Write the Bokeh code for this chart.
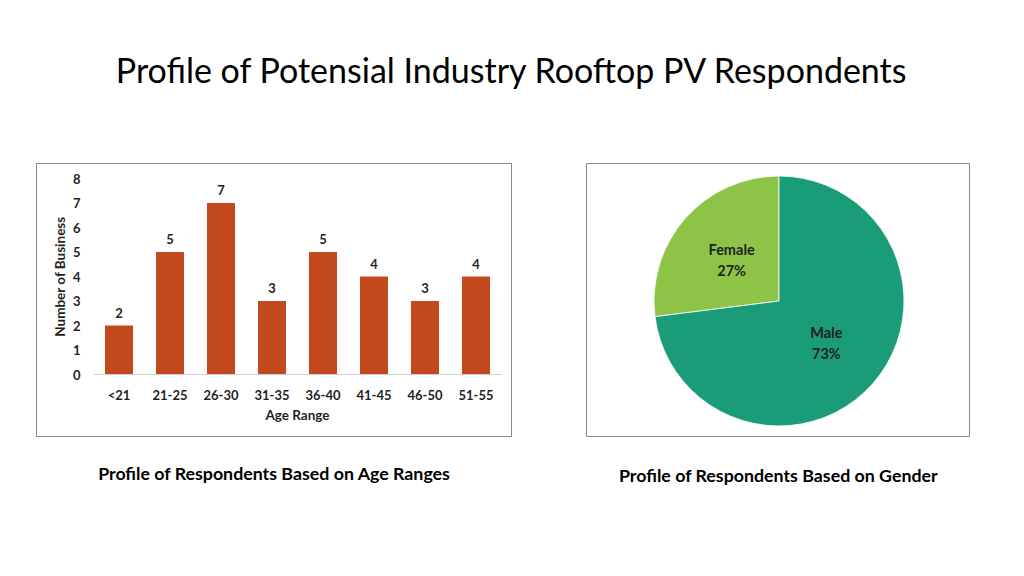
import math
from bokeh.plotting import figure
from bokeh.layouts import column, row
from bokeh.models import Spacer, Range1d, FactorRange, ColumnDataSource
from bokeh.core.properties import value
from bokeh.embed import file_html
from bokeh.resources import INLINE

# ---------------- data ----------------
age_ranges = ["<21", "21-25", "26-30", "31-35", "36-40", "41-45", "46-50", "51-55"]
business_counts = [2, 5, 7, 3, 5, 4, 3, 4]
genders = ["Female", "Male"]
gender_shares = [27, 73]
gender_colors = ["#8dc447", "#1b9c78"]

title_text = "Profile of Potensial Industry Rooftop PV Respondents"
caption_age = "Profile of Respondents Based on Age Ranges"
caption_gender = "Profile of Respondents Based on Gender"

FONT = "Lato"
DARK = "#1f1f1f"
BORDER = "#8a8a8a"


def blank(w, h):
    f = figure(width=w, height=h, x_range=Range1d(0, w), y_range=Range1d(h, 0),
               toolbar_location=None, output_backend="svg", min_border=0)
    f.axis.visible = False
    f.grid.visible = False
    f.outline_line_color = None
    f.border_fill_color = None
    f.background_fill_color = None
    return f


# ---------------- title ----------------
t = blank(1008, 163)
t.text(x=[512], y=[69], text=[title_text], text_font=value(FONT),
       text_font_size="34px", text_color="#000000", text_align="center",
       text_baseline="middle")

# ---------------- bar chart ----------------
b = figure(width=474, height=272, x_range=FactorRange(factors=age_ranges),
           y_range=Range1d(0, 8), toolbar_location=None, output_backend="svg",
           min_border_left=56, min_border_right=10, min_border_top=14,
           min_border_bottom=62)
b.styles = {"box-shadow": "0 0 0 1px " + BORDER}
b.outline_line_color = None
b.grid.visible = False
src = ColumnDataSource(dict(age=age_ranges, n=business_counts,
                            lab=[str(v) for v in business_counts]))
b.vbar(x="age", top="n", width=0.55, source=src, fill_color="#c1491d",
       line_color=None)
b.text(x="age", y="n", text="lab", source=src, y_offset=-13,
       text_font=value(FONT), text_font_size="13px", text_font_style="bold",
       text_color=DARK, text_align="center", text_baseline="middle")

b.xaxis.axis_label = "Age Range"
b.yaxis.axis_label = "Number of Business"
for ax in (b.xaxis, b.yaxis):
    ax.major_tick_line_color = None
    ax.minor_tick_line_color = None
    ax.major_label_text_font = FONT
    ax.major_label_text_font_size = "13px"
    ax.major_label_text_font_style = "bold"
    ax.major_label_text_color = DARK
    ax.axis_label_text_font = FONT
    ax.axis_label_text_font_size = "13.5px"
    ax.axis_label_text_font_style = "bold"
    ax.axis_label_text_color = DARK
b.yaxis.axis_line_color = None
b.xaxis.axis_line_color = "#d0d0d0"
b.xaxis.major_label_standoff = 6
b.xaxis.axis_label_standoff = 1
b.yaxis.major_label_standoff = 7
b.yaxis.axis_label_standoff = 2
b.yaxis.ticker = list(range(0, 9))

# ---------------- pie chart ----------------
pw, ph = 384, 274
pc = figure(width=pw, height=ph, x_range=Range1d(0, pw), y_range=Range1d(0, ph),
            toolbar_location=None, output_backend="svg", min_border=0)
pc.axis.visible = False
pc.grid.visible = False
pc.outline_line_color = BORDER
cx, cy, r = 192.5, 136.5, 125
total = float(sum(gender_shares))
starts, ends, mids = [], [], []
acc = 0.0
for s in gender_shares:
    a0 = math.pi / 2 + 2 * math.pi * acc / total
    acc += s
    a1 = math.pi / 2 + 2 * math.pi * acc / total
    starts.append(a0)
    ends.append(a1)
    mids.append((a0 + a1) / 2)
psrc = ColumnDataSource(dict(
    g=genders, start=starts, end=ends, color=gender_colors,
    lx=[cx + 0.505 * r * math.cos(m) for m in mids],
    ly=[cy + 0.505 * r * math.sin(m) for m in mids],
    pct=[f"{s}%" for s in gender_shares]))
pc.wedge(x=cx, y=cy, radius=r, start_angle="start", end_angle="end",
         direction="anticlock", fill_color="color", line_color="white",
         line_width=0.8, source=psrc)
pc.text(x="lx", y="ly", text="g", source=psrc, y_offset=-10,
        text_font=value(FONT), text_font_size="14.5px", text_font_style="bold",
        text_color=DARK, text_align="center", text_baseline="middle")
pc.text(x="lx", y="ly", text="pct", source=psrc, y_offset=11,
        text_font=value(FONT), text_font_size="14.5px", text_font_style="bold",
        text_color=DARK, text_align="center", text_baseline="middle")

# ---------------- captions ----------------
c = blank(1008, 131)
c.text(x=[274], y=[35], text=[caption_age], text_font=value(FONT),
       text_font_size="17.8px", text_font_style="bold", text_color="#000000",
       text_align="center", text_baseline="middle")
c.text(x=[778], y=[37], text=[caption_gender], text_font=value(FONT),
       text_font_size="17.8px", text_font_style="bold", text_color="#000000",
       text_align="center", text_baseline="middle")

bar_box = column(Spacer(width=474, height=1), b, Spacer(width=474, height=1))
layout = column(t, row(Spacer(width=37, height=274), bar_box,
                       Spacer(width=75, height=274), column(pc)), c)
open("out.html", "w").write(file_html(layout, INLINE))
